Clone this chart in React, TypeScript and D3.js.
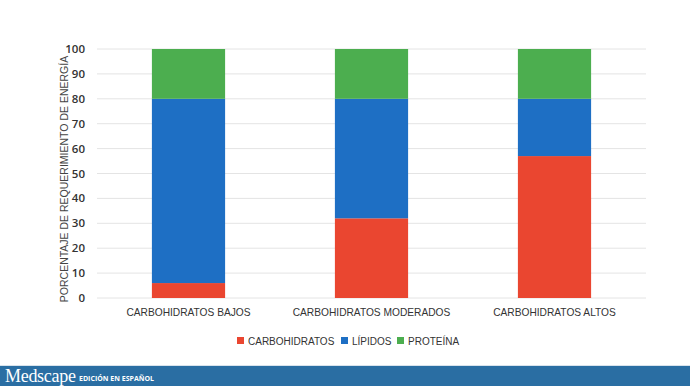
import React from "react";
import * as d3 from "d3";

const categories = ["CARBOHIDRATOS BAJOS", "CARBOHIDRATOS MODERADOS", "CARBOHIDRATOS ALTOS"];
const seriesNames = ["CARBOHIDRATOS", "LÍPIDOS", "PROTEÍNA"];
const carbohidratos = [6, 32, 57];
const lipidos = [74, 48, 23];
const proteina = [20, 20, 20];
const yTicks = [0, 10, 20, 30, 40, 50, 60, 70, 80, 90, 100];
const colors = ["#ea4630", "#1e6fc4", "#4cae4f"];

export default function App() {
  const W = 690, H = 386;
  const x = d3.scaleBand().domain(categories).range([97, 646]).paddingInner(0.6).paddingOuter(0.3);
  const y = d3.scaleLinear().domain([0, 100]).range([298, 49]);
  const rows = categories.map((c, i) => ({ cat: c, s0: carbohidratos[i], s1: lipidos[i], s2: proteina[i] }));
  const stack = d3.stack<any>().keys(["s0", "s1", "s2"])(rows);
  const legendX = [237, 341, 397];
  const font = "'Liberation Sans', Arial, sans-serif";
  return (
    <svg width={W} height={H} style={{ position: "absolute", left: 0, top: 0 }} fontFamily={font}>
      <rect width={W} height={H} fill="#fff" />
      {yTicks.map((t) => (
        <g key={t}>
          <line x1={97} x2={646} y1={y(t)} y2={y(t)} stroke="#e4e4e4" strokeWidth={1} />
          <text x={85} y={y(t)} dy="0.35em" textAnchor="end" fontSize={11.5} fontFamily="'Open Sans', sans-serif" fontWeight={600} fill="#333">{t}</text>
        </g>
      ))}
      <text transform={`translate(68,179) rotate(-90)`} textAnchor="middle" fontSize={10.5} fill="#444">
        PORCENTAJE DE REQUERIMIENTO DE ENERGÍA
      </text>
      {stack.map((layer, si) =>
        layer.map((d, i) => (
          <rect key={si + "-" + i} x={x(categories[i])} width={x.bandwidth()} y={y(d[1])}
            height={y(d[0]) - y(d[1])} fill={colors[si]} />
        ))
      )}
      {categories.map((c) => (
        <text key={c} x={(x(c) as number) + x.bandwidth() / 2} y={316} textAnchor="middle" fontSize={10.2} fill="#333">{c}</text>
      ))}
      {seriesNames.map((s, i) => (
        <g key={s}>
          <rect x={legendX[i]} y={337} width={7} height={7} fill={colors[i]} />
          <text x={legendX[i] + 11} y={341} dy="0.35em" fontSize={10} fill="#333">{s}</text>
        </g>
      ))}
      <line x1={0} x2={W} y1={365.5} y2={365.5} stroke="#d8e3ec" strokeWidth={1} />
      <rect x={0} y={366} width={W} height={20} fill="#2a6ea3" />
      <text x={5} y={382} fontFamily="'Liberation Serif', 'DejaVu Serif', serif" fontSize={18} fill="#fff" letterSpacing={-0.3}>Medscape</text>
      <text x={79} y={381} fontFamily="'Open Sans', sans-serif" fontWeight="bold" fontSize={7} fill="#fff">EDICIÓN EN ESPAÑOL</text>
    </svg>
  );
}
